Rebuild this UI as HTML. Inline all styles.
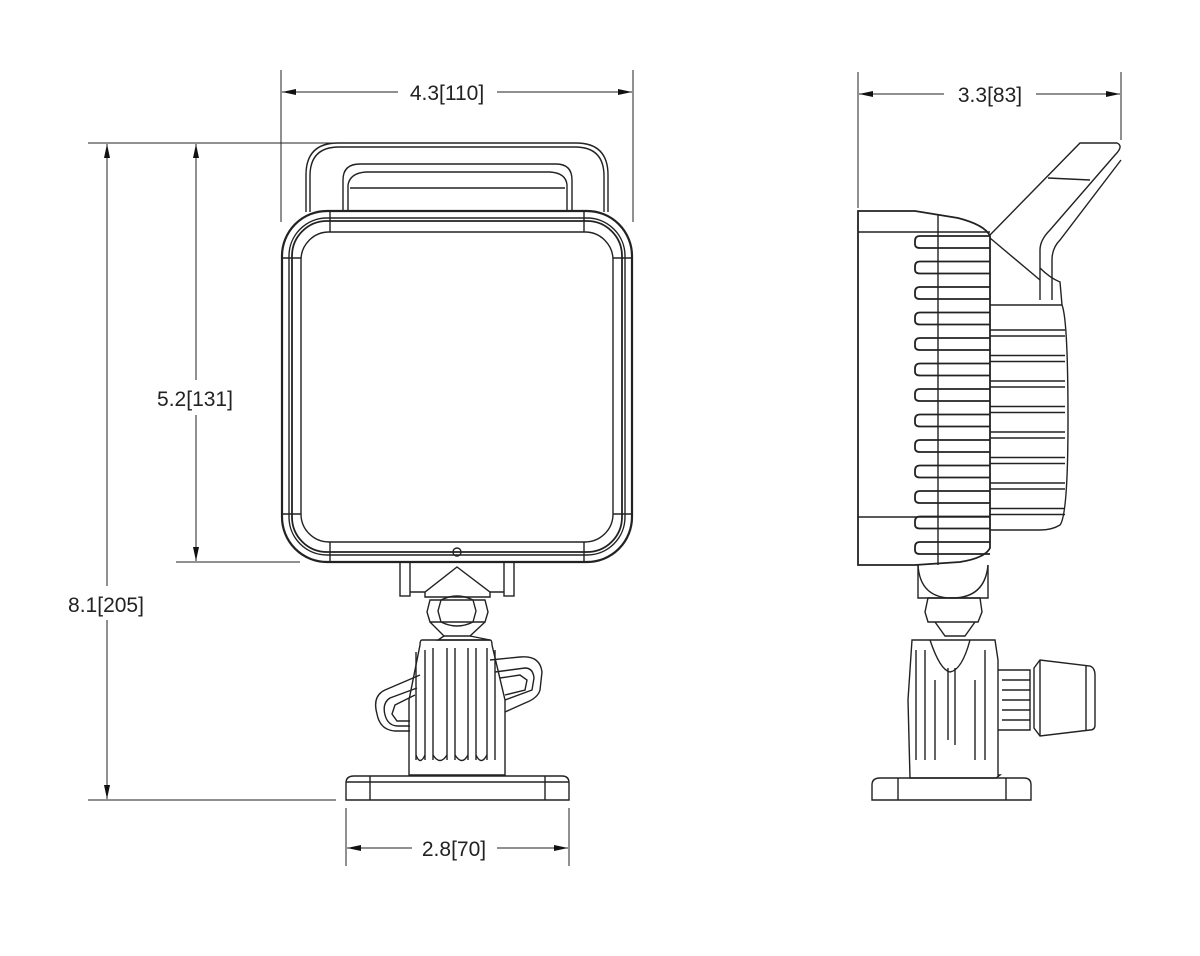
<!DOCTYPE html>
<html><head><meta charset="utf-8"><style>
html,body{margin:0;padding:0;background:#fff;}
svg{display:block}
text{font-family:"Liberation Sans",sans-serif;font-size:21px;fill:#222;}
</style></head><body>
<svg width="1200" height="956" viewBox="0 0 1200 956" xmlns="http://www.w3.org/2000/svg">
<defs>
<marker id="a" viewBox="0 0 14 6" refX="14" refY="3" markerWidth="14" markerHeight="6" orient="auto-start-reverse" markerUnits="userSpaceOnUse"><path d="M0,0 L14,3 L0,6 z" fill="#111"/></marker>
</defs>
<g stroke="#222" stroke-width="1" fill="none">
<line x1="281" y1="70" x2="281" y2="222"/>
<line x1="633" y1="70" x2="633" y2="222"/>
<line x1="282" y1="92" x2="398" y2="92" marker-start="url(#a)"/>
<line x1="497" y1="92" x2="632" y2="92" marker-end="url(#a)"/>
<line x1="858" y1="72" x2="858" y2="208"/>
<line x1="1121" y1="72" x2="1121" y2="140"/>
<line x1="859" y1="94" x2="944" y2="94" marker-start="url(#a)"/>
<line x1="1036" y1="94" x2="1120" y2="94" marker-end="url(#a)"/>
<line x1="176" y1="143" x2="336" y2="143"/>
<line x1="176" y1="562" x2="300" y2="562"/>
<line x1="196" y1="144" x2="196" y2="380" marker-start="url(#a)"/>
<line x1="196" y1="415" x2="196" y2="561" marker-end="url(#a)"/>
<line x1="88" y1="143" x2="176" y2="143"/>
<line x1="88" y1="800" x2="336" y2="800"/>
<line x1="107" y1="144" x2="107" y2="586" marker-start="url(#a)"/>
<line x1="107" y1="620" x2="107" y2="799" marker-end="url(#a)"/>
<line x1="346" y1="808" x2="346" y2="866"/>
<line x1="569" y1="808" x2="569" y2="866"/>
<line x1="347" y1="848" x2="412" y2="848" marker-start="url(#a)"/>
<line x1="497" y1="848" x2="568" y2="848" marker-end="url(#a)"/>
</g>
<text x="447" y="100" text-anchor="middle">4.3[110]</text>
<text x="990" y="102" text-anchor="middle">3.3[83]</text>
<text x="195" y="406" text-anchor="middle">5.2[131]</text>
<text x="106" y="612" text-anchor="middle">8.1[205]</text>
<text x="454" y="856" text-anchor="middle">2.8[70]</text>

<g stroke="#222" fill="none" stroke-width="1.4">
<path d="M306,212 V175 Q306,143 338,143 H576 Q608,143 608,175 V212"/>
<path d="M310,212 V176 Q310,147 339,147 H575 Q604,147 604,176 V212"/>
<path d="M343,212 V180 Q343,164 360,164 H556 Q572,164 572,180 V212"/>
<path d="M348,212 V185 Q350,173 366,172 H550 Q566,173 567,185 V212"/>
<path d="M350,188 H565"/>
<rect x="282" y="211" width="350" height="351" rx="45" stroke-width="2.2"/>
<rect x="289" y="218" width="336" height="337" rx="38"/>
<rect x="292" y="221" width="330" height="331" rx="35" stroke-width="1.8"/>
<rect x="301" y="232" width="312" height="310" rx="28"/>
<line x1="330" y1="211" x2="330" y2="232"/><line x1="584" y1="211" x2="584" y2="232"/>
<line x1="330" y1="542" x2="330" y2="562"/><line x1="584" y1="542" x2="584" y2="562"/>
<line x1="282" y1="258" x2="301" y2="258"/><line x1="613" y1="258" x2="632" y2="258"/>
<line x1="282" y1="514" x2="301" y2="514"/><line x1="613" y1="514" x2="632" y2="514"/>
<circle cx="457" cy="552" r="4"/>
<rect x="400" y="562" width="10" height="34"/><rect x="504" y="562" width="10" height="34"/>
<path d="M410,592 H425 L457,567 L490,592 H504"/>
<path d="M425,592 V597 H490 V592"/>
<path d="M430,600 H485 L488,612 L485,622 H430 L427,612 Z"/>
<path d="M441,600 Q457,592 473,600 M441,622 Q457,630 473,622 M441,600 L438,611 L441,622 M473,600 L476,611 L473,622"/>
<path d="M430,622 L444,636 H470 L485,622"/>
<path d="M444,636 L438,640 H490 L470,636"/>
<path d="M422,640 H490 Q492,640 492,645 L505,700 V775 H409 V700 L420,645 Q420,640 422,640 Z"/>
<path d="M490,660 L520,657 Q540,655 542,672 L540,690 Q538,698 525,703 L505,712 M495,672 L525,668 Q533,668 534,678 L532,690 L505,700 M500,678 L520,675 L527,680 L525,690 L505,695"/>
<path d="M420,675 L385,690 Q372,696 377,714 Q380,730 395,731 L410,731 M417,688 L390,698 Q382,703 385,715 Q388,726 398,726 L410,726 M415,695 L395,705 L392,714 L397,721 L410,721"/>
<path d="M416,760 V652 M425,760 V650 M433,760 V648 M447,760 V648 M455,760 V648 M468,760 V648 M476,760 V648 M487,760 V648 M495,760 V650"/>
<path d="M416,755 Q420,766 425,755 M433,755 Q440,766 447,755 M455,755 Q462,766 468,755 M476,755 Q481,766 487,755"/>
<path d="M346,800 V783 Q346,776 354,776 H562 Q569,776 569,783 V800 Z"/>
<line x1="370" y1="776" x2="370" y2="800"/><line x1="545" y1="776" x2="545" y2="800"/>
<line x1="346" y1="782" x2="569" y2="782"/>
</g>

<g stroke="#222" fill="none" stroke-width="1.4">
<path d="M858,211 H915 L958,218 Q985,225 990,236 V548 Q985,558 960,562 L915,565 H858 Z" stroke-width="1.8"/>
<line x1="858" y1="232" x2="990" y2="232"/><line x1="858" y1="517" x2="990" y2="517"/>
<line x1="938" y1="215" x2="938" y2="565"/>
<g id="fins" stroke-width="1.8">
<path d="M990,236 H920 Q915,236 915,241 V244 Q915,248 920,248 H990"/>
</g>
<use href="#fins" y="25.5"/><use href="#fins" y="51"/><use href="#fins" y="76.5"/><use href="#fins" y="102"/><use href="#fins" y="127.5"/><use href="#fins" y="153"/><use href="#fins" y="178.5"/><use href="#fins" y="204"/><use href="#fins" y="229.5"/><use href="#fins" y="255"/><use href="#fins" y="280.5"/><use href="#fins" y="306"/>
<path d="M990,305 H1062 Q1068,320 1068,420 Q1068,515 1060,525 Q1052,530 1040,530 H990"/>
<path d="M1040,300 V250 Q1040,240 1050,230 L1115,155 Q1124,146 1117,143 L1080,143 L990,235"/>
<path d="M1052,300 V260 Q1052,248 1060,240 L1121,160"/>
<path d="M1040,268 Q1050,278 1060,282 L1062,305"/>
<line x1="1048" y1="178" x2="1090" y2="180"/>
<line x1="990" y1="238" x2="1040" y2="280"/>
<g id="rf" stroke-width="1.6"><path d="M990,330 H1065 M990,336 H1065"/></g>
<use href="#rf" y="25.5"/><use href="#rf" y="51"/><use href="#rf" y="76.5"/><use href="#rf" y="102"/><use href="#rf" y="127.5"/><use href="#rf" y="153"/><use href="#rf" y="178.5"/>
<path d="M918,565 Q920,598 952,598 Q985,598 988,565"/>
<path d="M918,565 V598 H988 V565"/>
<path d="M928,598 H980 L982,612 L978,622 H928 L925,612 Z"/>
<path d="M935,622 L945,636 H965 L975,622"/>
<path d="M912,640 H995 L998,660 V775 H1000 L996,778 H910 L908,700 Z"/>
<path d="M930,640 Q940,670 950,672 Q962,670 970,640 M948,668 V740 M955,668 V745"/>
<path d="M916,760 V650 M925,760 V650 M935,760 V680 M975,760 V680 M985,760 V650"/>
<path d="M998,670 H1030 V730 H998"/>
<path d="M1002,680 H1030 M1002,690 H1030 M1002,700 H1030 M1002,710 H1030 M1002,720 H1030"/>
<path d="M1034,668 L1040,660 L1090,666 Q1095,668 1095,675 V725 Q1095,730 1090,730 L1040,736 L1034,728 Z"/>
<line x1="1040" y1="660" x2="1040" y2="736"/><line x1="1086" y1="666" x2="1086" y2="730"/>
<path d="M872,800 V785 Q872,778 880,778 H1024 Q1031,778 1031,785 V800 Z"/>
<line x1="898" y1="778" x2="898" y2="800"/><line x1="1006" y1="778" x2="1006" y2="800"/>
</g>
</svg>
</body></html>
